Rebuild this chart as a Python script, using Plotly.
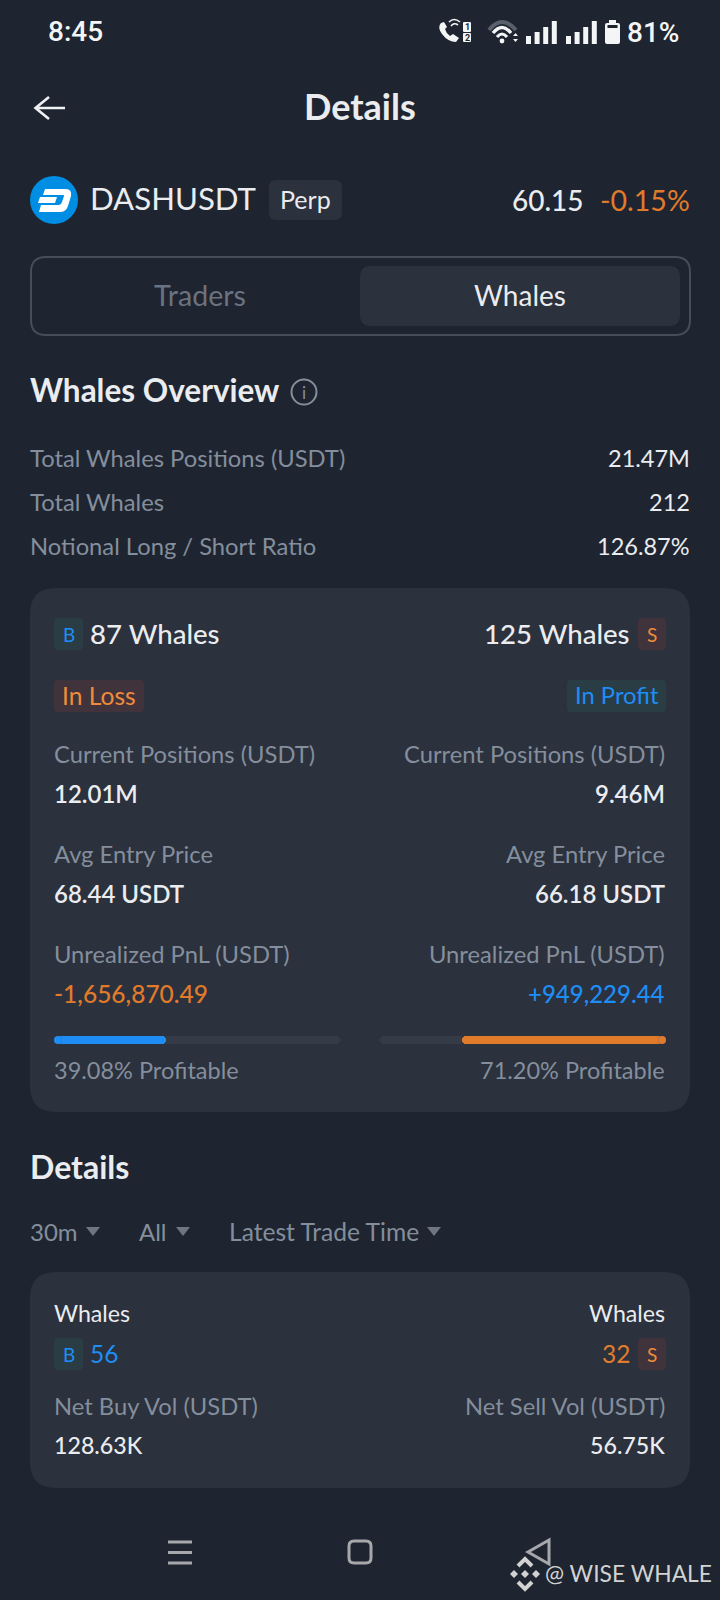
import plotly.graph_objects as go

# ---------- data ----------
status_time = "8:45"
battery_label = "81%"
sim_slots = ["1", "2"]
screen_title = "Details"
symbol = "DASHUSDT"
contract = "Perp"
last_price = "60.15"
price_change = "-0.15%"
tabs = ["Traders", "Whales"]
overview_title = "Whales Overview"
overview_labels = ["Total Whales Positions (USDT)", "Total Whales", "Notional Long / Short Ratio"]
overview_values = ["21.47M", "212", "126.87%"]
whale_counts = ["87 Whales", "125 Whales"]
pnl_states = ["In Loss", "In Profit"]
metric_labels = ["Current Positions (USDT)", "Avg Entry Price", "Unrealized PnL (USDT)"]
long_metrics = ["12.01M", "68.44 USDT", "-1,656,870.49"]
short_metrics = ["9.46M", "66.18 USDT", "+949,229.44"]
profitable_pct = [39.08, 71.20]
track_pct = [100, 100]
details_title = "Details"
filters = ["30m", "All", "Latest Trade Time"]
detail_heading = "Whales"
detail_counts = ["56", "32"]
vol_labels = ["Net Buy Vol (USDT)", "Net Sell Vol (USDT)"]
vol_values = ["128.63K", "56.75K"]
watermark = "@ WISE WHALE"

# ---------- style ----------
BG = "#1E2530"; CARD = "#2B313D"; WHITE = "#EAECEF"; GREY = "#848E9C"
BLUE = "#1E8EF5"; ORANGE = "#E07B2C"; ORANGE2 = "#F08B3C"
BADGE_B = "#2A3C44"; BADGE_S = "#41333B"; TRACK = "#343B47"
FONT = "Lato"
W, H = 720, 1600
LBL = 23.75

shapes, notes = [], []

def text(x, y, s, size, color=WHITE, anchor="left", weight=400, family=FONT):
    dx = {"left": -2, "right": 1, "center": 0}[anchor]
    notes.append(dict(x=x + dx, y=y - 1, xref="x", yref="y", text=s, showarrow=False, xanchor=anchor,
                      yanchor="middle", borderpad=0, align=anchor,
                      font=dict(size=size, color=color, family=family, weight=weight)))

def path(d, fill=None, line=None, width=0):
    s = dict(type="path", path=d, xref="x", yref="y", layer="below",
             line=dict(color=line or "rgba(0,0,0,0)", width=width))
    if fill:
        s["fillcolor"] = fill
    shapes.append(s)

def rr(x0, y0, x1, y1, r, fill=None, line=None, width=0):
    path(f"M{x0+r},{y0} H{x1-r} Q{x1},{y0} {x1},{y0+r} V{y1-r} Q{x1},{y1} {x1-r},{y1} "
         f"H{x0+r} Q{x0},{y1} {x0},{y1-r} V{y0+r} Q{x0},{y0} {x0+r},{y0} Z", fill, line, width)

def circle(cx, cy, r, fill=None, line=None, width=0):
    shapes.append(dict(type="circle", xref="x", yref="y", x0=cx-r, x1=cx+r, y0=cy-r, y1=cy+r, layer="below",
                       fillcolor=fill or "rgba(0,0,0,0)", line=dict(color=line or "rgba(0,0,0,0)", width=width)))

def tri(cx, cy, color="#6F7683"):
    path(f"M{cx-7},{cy-4} H{cx+7} L{cx},{cy+5} Z", color)

def diamond(cx, cy, r, fill):
    path(f"M{cx},{cy-r} L{cx+r},{cy} L{cx},{cy+r} L{cx-r},{cy} Z", fill)

# ---------- status bar ----------
text(49, 32, status_time, 28, "#F4F5F6", weight=500, family="Roboto")
text(628, 33, battery_label, 28, "#F4F5F6", weight=500, family="Roboto")
path("M441,23 Q437,27 442,34 Q448,42 456,42 L459,38 L453,34 L450,36 Q446,33 445,29 L447,27 L444,22 Z", "#F4F5F6")
path("M451,26 Q454,22 458,25", None, "#F4F5F6", 1.6)
path("M449,22 Q454,17 460,22", None, "#F4F5F6", 1.6)
rr(463, 22, 471, 32, 1, "#F4F5F6")
rr(463, 33, 471, 42, 1, "#F4F5F6")
text(467, 28, sim_slots[0], 9, BG, "center", 700, "Roboto")
text(467, 39, sim_slots[1], 9, BG, "center", 700, "Roboto")
# wifi
path("M489,30 Q502,14 516,30", None, "#5A606B", 4)
path("M493,33 Q502,22 511,33", None, "#F4F5F6", 3.4)
path("M497,37 Q502,31 507,37", None, "#F4F5F6", 3.2)
circle(502, 41, 2.4, "#F4F5F6")
path("M513,36 H518 L515.5,33 Z M513,39 H518 L515.5,42 Z", "#F4F5F6")
# signal bars
for base in (526, 566):
    for i, top in enumerate((36, 32, 27, 21)):
        shapes.append(dict(type="rect", xref="x", yref="y", x0=base+i*8.6, x1=base+i*8.6+5, y0=top, y1=44,
                           layer="below", fillcolor="#F4F5F6", line=dict(width=0)))
# battery
rr(605, 23, 620, 44, 2, "#F4F5F6")
shapes.append(dict(type="rect", xref="x", yref="y", x0=609, x1=616, y0=20, y1=23, layer="below",
                   fillcolor="#F4F5F6", line=dict(width=0)))
shapes.append(dict(type="rect", xref="x", yref="y", x0=607.5, x1=617.5, y0=25, y1=28, layer="below",
                   fillcolor="#1E2530", line=dict(width=0)))

# ---------- header ----------
path("M65,108 H36 M49,97 L35.5,108 L49,119", None, "#F0F1F3", 2.6)
text(360, 107, screen_title, 36, WHITE, "center", 700)

circle(54, 200, 24, "#008DE4")
path("M45,189 H66 Q72,189 71,196 L68,206 Q66,212 60,212 H39 L41,205 H59 Q61,205 62,202 L64,196 Q64.5,195 63,195 H43 Z", "#FFFFFF")
path("M40,197 H57 L55,203 H38 Z", "#FFFFFF")
text(91, 199, symbol, 31.2, WHITE)
rr(269, 180, 342, 220, 7, CARD)
text(305.5, 200, contract, 25, WHITE, "center")
text(584, 201, last_price, 28, WHITE, "right", 500)
text(690, 201, price_change, 28.5, ORANGE, "right")

# ---------- tabs ----------
rr(31, 257, 690, 335, 15, None, "#474D57", 2)
rr(360, 266, 680, 326, 11, CARD)
text(200, 296, tabs[0], 28.6, "#6B7280", "center")
text(520, 296, tabs[1], 28, WHITE, "center")

# ---------- overview ----------
text(31, 391, overview_title, 31.5, WHITE, weight=700)
circle(304, 392, 12.5, None, GREY, 2)
text(304, 393, "i", 17, GREY, "center")
for y, lab, val in zip((459, 503, 547), overview_labels, overview_values):
    text(31, y, lab, LBL, GREY)
    text(690, y, val, 23.5, WHITE, "right")

# ---------- position card ----------
rr(30, 588, 690, 1112, 26, CARD)
rr(54, 618, 83, 650, 4, BADGE_B)
text(68.5, 635, "B", 19, BLUE, "center")
text(91, 634, whale_counts[0], 27.6, WHITE, weight=500)
text(630, 634, whale_counts[1], 27.6, WHITE, "right", 500)
rr(638, 618, 666, 650, 4, BADGE_S)
text(652, 635, "S", 19, ORANGE2, "center")
rr(54, 680, 144, 712, 4, BADGE_S)
text(99, 696, pnl_states[0], 24.6, ORANGE2, "center")
rr(567, 680, 666, 712, 4, BADGE_B)
text(616.5, 696, pnl_states[1], 23.8, BLUE, "center")

for yl, yv, lab, lv, sv in zip((755, 855, 955), (794, 894, 994), metric_labels, long_metrics, short_metrics):
    text(55, yl, lab, LBL, GREY)
    text(665, yl, lab, LBL, GREY, "right")
    lcol = ORANGE if lv.startswith("-") else WHITE
    scol = BLUE if sv.startswith("+") else WHITE
    text(55, yv, lv, 24.5 if lcol != WHITE else 24, lcol, weight=600 if lcol == WHITE else 500)
    text(665, yv, sv, 24, scol, "right", 600 if scol == WHITE else 500)

text(55, 1071, f"{profitable_pct[0]:.2f}% Profitable", 23.5, GREY)
text(665, 1071, f"{profitable_pct[1]:.2f}% Profitable", 23.5, GREY, "right")

# ---------- details ----------
text(31, 1167, details_title, 32, WHITE, weight=700)
text(31, 1232, filters[0], 24, GREY)
tri(93, 1231)
text(140, 1232, filters[1], 24, GREY)
tri(183, 1231)
text(230, 1232, filters[2], 24.6, GREY)
tri(434, 1231)

rr(30, 1272, 690, 1488, 26, CARD)
text(55, 1314, detail_heading, 23.2, WHITE)
text(665, 1314, detail_heading, 23.2, WHITE, "right")
rr(54, 1338, 83, 1370, 4, BADGE_B)
text(68.5, 1355, "B", 19, BLUE, "center")
text(91, 1354, detail_counts[0], 24.5, BLUE)
text(630, 1354, detail_counts[1], 24.5, ORANGE, "right")
rr(638, 1338, 666, 1370, 4, BADGE_S)
text(652, 1355, "S", 19, ORANGE2, "center")
text(55, 1407, vol_labels[0], LBL, GREY)
text(665, 1407, vol_labels[1], LBL, GREY, "right")
text(55, 1446, vol_values[0], 23.2, WHITE, weight=500)
text(665, 1446, vol_values[1], 23.2, WHITE, "right", 500)

# ---------- nav + watermark ----------
NAV = "#A6A8AC"
path("M168,1542 H192 M168,1552.5 H192 M168,1563 H192", None, NAV, 3)
rr(349, 1541, 371, 1563, 5, None, NAV, 3)
path("M549,1540 V1564 L528,1552 Z", None, NAV, 3)
diamond(525, 1574, 4, "#D2D2D2")
diamond(514, 1574, 4, "#D2D2D2")
diamond(536, 1574, 4, "#D2D2D2")
path("M518,1566 L525,1559 L532,1566", None, "#D2D2D2", 4)
path("M518,1582 L525,1589 L532,1582", None, "#D2D2D2", 4)
text(546, 1574, watermark, 22.8, "#D2D2D2")

# ---------- figure ----------
fig = go.Figure()
fig.add_trace(go.Scatter(x=[0, W], y=[0, H], mode="markers", marker=dict(opacity=0), hoverinfo="skip", showlegend=False))
row = ["p"]
BAR_W = 286          # px length of each progress track
CAP = 4 / BAR_W * 100  # round-cap radius expressed in axis units
bars = [(track_pct[0], TRACK, "x2", "y2"), (profitable_pct[0], BLUE, "x2", "y2"),
        (track_pct[1], TRACK, "x3", "y3"), (profitable_pct[1], ORANGE, "x3", "y3")]
for val, col, xa, ya in bars:
    fig.add_trace(go.Bar(y=row, x=[val - CAP], base=[CAP], orientation="h",
                         marker=dict(color=col, line=dict(width=0), cornerradius=4),
                         xaxis=xa, yaxis=ya, hoverinfo="skip", showlegend=False))
for val, col, xa, ya in bars:
    fig.add_trace(go.Scatter(y=row, x=[CAP], mode="markers", cliponaxis=False,
                             marker=dict(color=col, size=8, line=dict(width=0)),
                             xaxis=xa, yaxis=ya, hoverinfo="skip", showlegend=False))

band = [1 - 1044 / H, 1 - 1036 / H]
hidden = dict(visible=False, fixedrange=True)
fig.update_layout(
    width=W, height=H, margin=dict(l=0, r=0, t=0, b=0), paper_bgcolor=BG, plot_bgcolor="rgba(0,0,0,0)",
    barmode="overlay", bargap=0, showlegend=False,
    xaxis=dict(range=[0, W], domain=[0, 1], **hidden),
    yaxis=dict(range=[H, 0], domain=[0, 1], **hidden),
    xaxis2=dict(range=[0, 100], domain=[54 / W, 340 / W], anchor="y2", **hidden),
    yaxis2=dict(domain=band, anchor="x2", range=[-0.5, 0.5], type="category", **hidden),
    xaxis3=dict(range=[100, 0], domain=[380 / W, 666 / W], anchor="y3", **hidden),
    yaxis3=dict(domain=band, anchor="x3", range=[-0.5, 0.5], type="category", **hidden),
    shapes=shapes, annotations=notes,
)
fig.write_html("out.html", config=dict(displayModeBar=False),
               post_script="document.body.style.margin='0';document.body.style.background='#1E2530';")
